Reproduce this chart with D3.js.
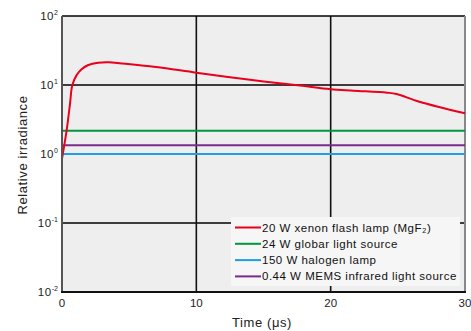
<!DOCTYPE html>
<html><head><meta charset="utf-8">
<script src="https://cdn.jsdelivr.net/npm/d3@7"></script>
<style>body{margin:0;background:#fff;}svg text{font-family:"Liberation Sans",Arial,sans-serif;}</style>
</head><body><svg id="c" width="471" height="331"></svg>
<script>
const xTicks = [0, 10, 20, 30];
const yExps = [-2, -1, 0, 1, 2];
const xenonT = [0, 0.35, 0.6, 0.77, 1.09, 1.46, 1.96, 2.7, 3.45, 4.44, 7, 10, 14, 17.7, 20, 21.7, 24.2, 24.9, 26.6, 30];
const xenonV = [0.85, 2.23, 5.43, 10, 13.9, 16.9, 19.5, 21.0, 21.3, 20.5, 18.2, 15.1, 11.9, 9.8, 8.66, 8.26, 7.74, 7.41, 5.73, 3.89];
const globarV = 2.18;
const halogenV = 1.0;
const memsV = 1.34;
const seriesNames = ["20 W xenon flash lamp (MgF\u2082)", "24 W globar light source", "150 W halogen lamp", "0.44 W MEMS infrared light source"];
const seriesColors = ["#e8001c", "#00963f", "#1ba0e2", "#7b2b8e"];

const svg = d3.select("#c");
const L = 62, R = 465, T = 16, B = 292;
const x = d3.scaleLinear().domain([0, 30]).range([L, R]);
const y = d3.scaleLog().domain([0.01, 100]).range([B, T]);

svg.append("rect").attr("x", L).attr("y", T).attr("width", R - L).attr("height", B - T).attr("fill", "#eeeeee");

// grid
svg.append("g").selectAll("line").data(yExps.slice(1, 4)).join("line")
  .attr("x1", L).attr("x2", R).attr("y1", d => y(Math.pow(10, d))).attr("y2", d => y(Math.pow(10, d)))
  .attr("stroke", "#000").attr("stroke-width", 1.3);
svg.append("g").selectAll("line").data([10, 20]).join("line")
  .attr("x1", d => x(d)).attr("x2", d => x(d)).attr("y1", T).attr("y2", B)
  .attr("stroke", "#111").attr("stroke-width", 1.6);

// frame
svg.append("line").attr("x1", L).attr("x2", R).attr("y1", T).attr("y2", T).attr("stroke", "#000").attr("stroke-width", 1.5);
svg.append("line").attr("x1", R).attr("x2", R).attr("y1", T).attr("y2", B).attr("stroke", "#888").attr("stroke-width", 2);

// series
const flatLine = d3.line().x(d => x(d[0])).y(d => y(d[1]));
const line = d3.line().x(d => x(d[0])).y(d => y(d[1])).curve(d3.curveCatmullRom.alpha(0.5));
const flat = [globarV, halogenV, memsV];
[1, 3, 2].forEach(i => {
  const v = flat[i - 1];
  svg.append("path").attr("d", flatLine([[0, v], [30, v]])).attr("stroke", seriesColors[i]).attr("stroke-width", 2).attr("fill", "none");
});
svg.append("path").attr("d", line(xenonT.map((t, i) => [t, xenonV[i]])))
  .attr("stroke", seriesColors[0]).attr("stroke-width", 2).attr("fill", "none");

// axes lines
svg.append("line").attr("x1", L).attr("x2", L).attr("y1", T).attr("y2", B + 1).attr("stroke", "#555").attr("stroke-width", 2);
svg.append("line").attr("x1", L - 1).attr("x2", R + 1).attr("y1", B).attr("y2", B).attr("stroke", "#111").attr("stroke-width", 2);

// y tick labels
const yl = svg.append("g");
yExps.forEach(e => {
  const t = yl.append("text").attr("x", 58).attr("y", y(Math.pow(10, e)) + 4).attr("text-anchor", "end")
    .attr("font-size", 11.5).attr("fill", "#222");
  t.append("tspan").attr("letter-spacing", 0.4).text("10");
  t.append("tspan").attr("font-size", 7).attr("dy", -5).attr("dx", 0.3).text(e < 0 ? "-" + (-e) : e);
});
// x tick labels
svg.append("g").selectAll("text").data(xTicks).join("text")
  .attr("x", d => x(d)).attr("y", 307).attr("text-anchor", "middle").attr("font-size", 11.5).attr("fill", "#222").text(d => d);

svg.append("text").attr("x", 262).attr("y", 327).attr("text-anchor", "middle").attr("font-size", 13).attr("letter-spacing", 0.6).attr("fill", "#222").text("Time (\u03bcs)");
svg.append("text").attr("transform", "translate(27,155) rotate(-90)").attr("text-anchor", "middle").attr("font-size", 13).attr("letter-spacing", 0.6).attr("fill", "#222").text("Relative irradiance");

// legend
const lg = svg.append("g");
lg.append("rect").attr("x", 231).attr("y", 217).attr("width", 229).attr("height", 69).attr("fill", "#f6f6f6");
seriesNames.forEach((n, i) => {
  const yy = 227.5 + i * 16.3;
  lg.append("line").attr("x1", 235).attr("x2", 261).attr("y1", yy).attr("y2", yy).attr("stroke", seriesColors[i]).attr("stroke-width", 2);
  lg.append("text").attr("x", 262).attr("y", yy + 4).attr("font-size", 11.5).attr("letter-spacing", 0.5).attr("fill", "#111").text(n);
});
</script></body></html>
